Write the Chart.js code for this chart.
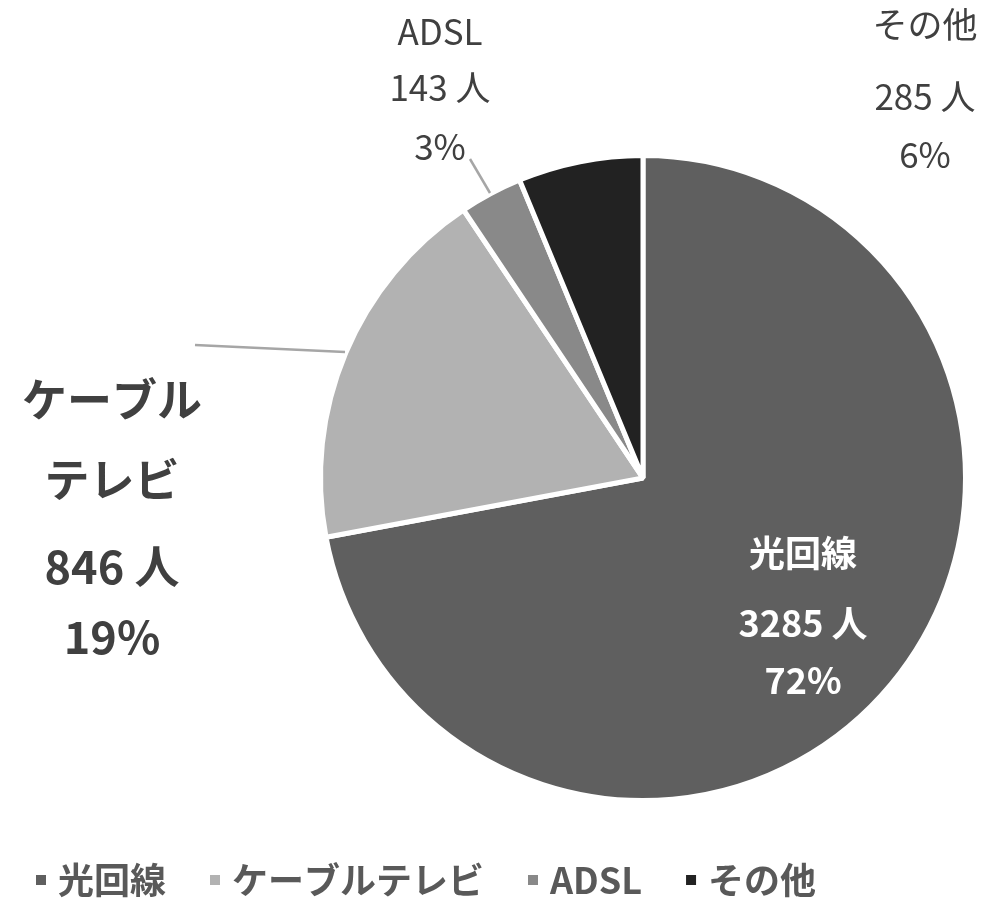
<!DOCTYPE html>
<html>
<head>
<meta charset="utf-8">
<script src="https://cdn.jsdelivr.net/npm/chart.js@4/dist/chart.umd.min.js"></script>
<style>
  html, body { margin: 0; padding: 0; background: #fff; }
  #wrap { width: 989px; height: 902px; }
</style>
</head>
<body>
<div id="wrap"><canvas id="lineShare"></canvas></div>
<script>
// Data
var categories = ['光回線', 'ケーブルテレビ', 'ADSL', 'その他'];
var labelLines = [['光回線'], ['ケーブル', 'テレビ'], ['ADSL'], ['その他']];
var people = [3285, 846, 143, 285];
var unit = '人';
var sliceColors = ['#5f5f5f', '#b2b2b2', '#898989', '#222222'];

// label layout (px offsets from pie centre)
var labelStyle = [
  {dx: 160, ys: [75, 145, 202], color: '#ffffff', weight: 'bold', size: 36},
  {dx: -531, ys: [-78, 2, 89, 159], color: '#404040', weight: 'bold', size: 45},
  {dx: -203, ys: [-446, -390, -331], color: '#404040', weight: 'normal', size: 35},
  {dx: 282, ys: [-453, -381, -323], color: '#404040', weight: 'normal', size: 35}
];
var leaders = [null, [-448, -133, -298, -126], [-173, -319, -153, -285], null];

var total = people.reduce(function (a, b) { return a + b; }, 0);
var FONT = '"Noto Sans CJK JP", "Noto Sans", sans-serif';

var labelPlugin = {
  id: 'sliceLabels',
  afterDatasetsDraw: function (chart) {
    var ctx = chart.ctx;
    var arc = chart.getDatasetMeta(0).data[0];
    var cx = arc.x, cy = arc.y;
    ctx.save();
    // leader lines
    ctx.strokeStyle = '#a6a6a6';
    ctx.lineWidth = 2.5;
    leaders.forEach(function (l) {
      if (!l) return;
      ctx.beginPath();
      ctx.moveTo(cx + l[0], cy + l[1]);
      ctx.lineTo(cx + l[2], cy + l[3]);
      ctx.stroke();
    });
    ctx.textAlign = 'center';
    ctx.textBaseline = 'middle';
    people.forEach(function (v, i) {
      var st = labelStyle[i];
      var lines = labelLines[i].concat([v + ' ' + unit, Math.round(v / total * 100) + '%']);
      ctx.fillStyle = st.color;
      ctx.font = st.weight + ' ' + st.size + 'px ' + FONT;
      lines.forEach(function (t, j) {
        ctx.fillText(t, cx + st.dx, cy + st.ys[j]);
      });
    });
    ctx.restore();
  }
};

var legendPlugin = {
  id: 'bottomLegend',
  afterDraw: function (chart) {
    var ctx = chart.ctx;
    var x = 36, y = 880;
    ctx.save();
    ctx.font = 'bold 36px ' + FONT;
    ctx.textBaseline = 'middle';
    ctx.textAlign = 'left';
    categories.forEach(function (c, i) {
      ctx.fillStyle = sliceColors[i];
      ctx.fillRect(x, y - 5, 10, 10);
      ctx.fillStyle = '#595959';
      ctx.fillText(c, x + 22, y);
      x += 22 + ctx.measureText(c).width + 44;
    });
    ctx.restore();
  }
};

var config = {
  type: 'pie',
  data: {
    labels: categories,
    datasets: [{
      data: people,
      backgroundColor: sliceColors,
      borderColor: '#ffffff',
      borderWidth: 5
    }]
  },
  options: {
    responsive: true,
    maintainAspectRatio: false,
    animation: false,
    layout: { padding: { top: 153, left: 318, right: 21, bottom: 99 } },
    plugins: {
      legend: { display: false },
      tooltip: { enabled: false }
    }
  },
  plugins: [labelPlugin, legendPlugin]
};

var ctx = document.getElementById('lineShare').getContext('2d');
var shareChart = new Chart(ctx, config);
</script>
</body>
</html>
